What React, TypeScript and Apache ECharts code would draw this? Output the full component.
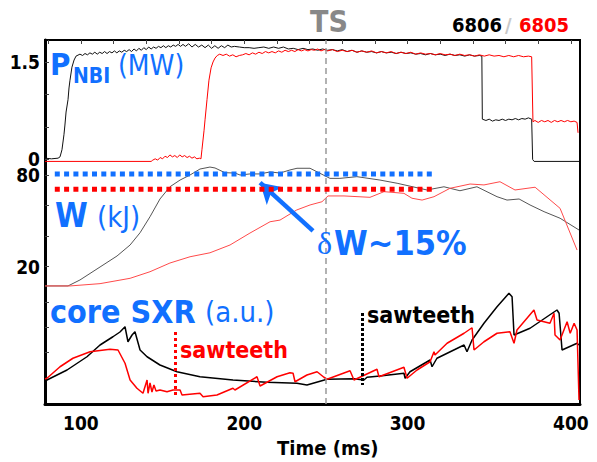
import React, { useEffect, useRef } from "react";
import * as echarts from "echarts";

// ---------- data ----------
const xTickLabels = [100, 200, 300, 400];
const xMinorTicks = [80, 100, 120, 140, 160, 180, 200, 220, 240, 260, 280, 300, 320, 340, 360, 380, 400];
const pTicks = [0, 0.5, 1, 1.5];
const pLabels = [0, 1.5];
const wTicks = [20, 40, 60, 80];
const wLabels = [20, 80];
const sTicks = [2, 3, 4];
const tsTime = 250;

// P_NBI (MW), shot 6806 (black)
const pBlack: [number, number][] = [
  [78, 0.02], [82, 0.01], [86, 0.02], [87.2, 0.04], [88.4, 0.15], [89.6, 0.38], [90.2, 0.53], [90.9, 0.73],
  [92.1, 0.92], [92.7, 1.1], [93.3, 1.22], [94.5, 1.42], [95.8, 1.53], [97, 1.59], [99.4, 1.62],
  [101, 1.6], [102.5, 1.63], [104, 1.61], [105.5, 1.64], [107, 1.62], [108.5, 1.65], [110, 1.62], [111.5, 1.65],
  [113, 1.63], [114.5, 1.66], [116, 1.63], [117.5, 1.66], [119, 1.64], [120.5, 1.67], [122, 1.64], [123.5, 1.67],
  [125, 1.65], [126.5, 1.68], [128, 1.66], [129.5, 1.69], [131, 1.66], [132.5, 1.7], [134, 1.67], [135.5, 1.71],
  [137, 1.68], [138.5, 1.72], [140, 1.69], [141.5, 1.73], [143, 1.7], [144.5, 1.73], [146, 1.71], [147.5, 1.74],
  [149, 1.72], [150.5, 1.75], [152, 1.72], [153.5, 1.75], [155, 1.73], [156.5, 1.76], [158, 1.74], [159.5, 1.77],
  [161, 1.74], [162.5, 1.77], [164, 1.74], [166, 1.78], [168, 1.73], [170, 1.77], [172, 1.73], [174, 1.76],
  [176, 1.72], [178, 1.76], [180, 1.71], [182, 1.75], [184, 1.71], [186, 1.75], [188, 1.72], [190, 1.76],
  [192, 1.73], [194, 1.74], [197, 1.73], [200, 1.72], [203, 1.72], [206, 1.71], [209, 1.72], [212, 1.73],
  [215, 1.71], [218, 1.73], [221, 1.71], [224, 1.73], [227, 1.7], [230, 1.71], [233, 1.69], [236, 1.71],
  [239, 1.69], [242, 1.7], [245, 1.68], [248, 1.7], [251, 1.68], [254, 1.69], [257, 1.67], [260, 1.69],
  [263, 1.66], [266, 1.68], [269, 1.65], [272, 1.67], [275, 1.65], [278, 1.66], [281, 1.64], [284, 1.66],
  [287, 1.64], [290, 1.65], [293, 1.63], [296, 1.65], [299, 1.63], [302, 1.64], [305, 1.62], [308, 1.63],
  [311, 1.61], [314, 1.63], [317, 1.61], [320, 1.62], [323, 1.6], [326, 1.62], [329, 1.6], [332, 1.61],
  [335, 1.59], [338, 1.61], [341, 1.59], [344, 1.6], [345.5, 1.59], [345.8, 0.62], [348, 0.6], [350, 0.62],
  [352, 0.59], [354, 0.61], [356, 0.6], [358, 0.62], [360, 0.6], [362, 0.62], [364, 0.61], [366, 0.63],
  [368, 0.61], [370, 0.63], [372, 0.62], [374, 0.64], [376, 0.62], [376.6, 0.0], [377.5, -0.03], [405, -0.03],
];

// P_NBI (MW), shot 6805 (red)
const pRed: [number, number][] = [
  [78, -0.03], [143, -0.03], [144, -0.01], [145.5, 0.01], [147, -0.01], [148.5, 0.03], [150, 0.01], [151.5, 0.05],
  [153, 0.03], [154.5, 0.07], [156, 0.04], [157.5, 0.06], [159, 0.03], [160.5, 0.07], [162, 0.04], [163.5, 0.06],
  [165, 0.03], [166.5, 0.05], [168, 0.02], [169.5, 0.04], [171, 0.01], [172.5, 0.02], [173.5, 0.01], [174.1, 0.15],
  [175.4, 0.45], [176, 0.61], [177.2, 0.92], [178.4, 1.22], [179.7, 1.41], [180.9, 1.5], [182.1, 1.56], [183.5, 1.6],
  [185, 1.62], [187, 1.6], [189, 1.62], [191, 1.59], [193, 1.61], [195, 1.58], [197, 1.6], [199, 1.61],
  [201, 1.63], [203, 1.61], [205, 1.64], [207, 1.62], [209, 1.65], [211, 1.63], [213, 1.66], [215, 1.64],
  [217, 1.66], [219, 1.64], [221, 1.67], [223, 1.65], [225, 1.68], [227, 1.66], [229, 1.68], [231, 1.66],
  [233, 1.69], [235, 1.67], [237, 1.69], [239, 1.67], [241, 1.69], [243, 1.68], [245, 1.7], [247, 1.67],
  [249, 1.69], [251, 1.67], [254, 1.69], [257, 1.66], [260, 1.68], [263, 1.66], [266, 1.68], [269, 1.65],
  [272, 1.67], [275, 1.65], [278, 1.67], [281, 1.64], [284, 1.66], [287, 1.64], [290, 1.66], [293, 1.63],
  [296, 1.65], [299, 1.63], [302, 1.65], [305, 1.62], [308, 1.64], [311, 1.62], [314, 1.63], [317, 1.61],
  [320, 1.63], [323, 1.61], [326, 1.62], [329, 1.6], [332, 1.62], [335, 1.6], [338, 1.61], [341, 1.59],
  [344, 1.61], [347, 1.59], [350, 1.61], [353, 1.59], [356, 1.6], [359, 1.58], [362, 1.6], [365, 1.58],
  [368, 1.6], [371, 1.58], [374, 1.59], [376, 1.58], [376.8, 0.58], [378, 0.6], [380, 0.57], [382, 0.6],
  [384, 0.58], [386, 0.6], [388, 0.57], [390, 0.6], [392, 0.58], [394, 0.6], [396, 0.58], [398, 0.6],
  [400, 0.58], [402, 0.59], [403.8, 0.57], [404.4, 0.41],
];

// W (kJ)
const wBlack: [number, number][] = [
  [78, 7.4], [92.1, 7.4], [99.4, 11.3], [111.7, 19.8], [122.1, 27.0], [130.1, 34.2], [136.2, 42.2], [142.3, 52.7],
  [148.4, 64.3], [154.5, 72.3], [160.7, 76.7], [166.8, 80.0], [172.9, 83.9], [179, 85.2], [182.1, 84.6], [188.2, 81.5],
  [194.3, 81.3], [197.4, 80], [203.5, 80.7], [209.7, 80.7], [215.8, 82.0], [221.9, 81.3], [228, 83.3], [232.3, 84.4],
  [240.3, 84.4], [252.5, 77.8], [258.6, 77.8], [269, 78.9], [283.1, 76.7], [293.6, 74.6], [311.9, 70.2], [322.3, 72.3],
  [332.1, 69.7], [342.5, 72.3], [354.8, 65.8], [360.9, 63.6], [368.3, 64.3], [375, 60.4], [383.6, 56.0], [393.4, 51.7],
  [405, 44.0],
];
const wRed: [number, number][] = [
  [78, 7.4], [93.3, 7.4], [111.7, 8.9], [130.1, 12.4], [142.3, 16.7], [154.5, 22.4], [166.8, 26.5], [179, 29.1],
  [191.3, 34.2], [203.5, 42.0], [215.8, 49.4], [221.9, 50.5], [232.1, 57.1], [240.3, 60.4], [247.6, 62.5], [251.3, 66.3],
  [261.1, 66.3], [277, 65.4], [285.6, 69.1], [297.8, 68.0], [302.7, 64.8], [308.9, 63.6], [316.2, 65.8], [326, 71.3],
  [338.3, 74.1], [346.8, 73.5], [356.6, 75.6], [365.8, 70.2], [378.1, 72.0], [393.4, 58.2], [403.8, 30.9],
];
const wLevelBlack = 80.65;
const wLevelRed = 70.6;
const wLevelSpan = [84, 317];

// core SXR (a.u.)
const sBlack: [number, number][] = [
  [78, 0.84], [79.2, 0.88], [91.5, 1.28], [103.7, 1.81], [111.7, 2.28], [119.6, 2.61], [123.9, 2.8], [127, 3.01],
  [128.8, 2.41], [131.3, 2.68], [133.1, 2.81], [136.2, 2.08], [140.5, 1.81], [148.4, 1.48], [158.8, 1.21], [172.9, 1.01],
  [193.1, 0.88], [213.9, 0.79], [232.3, 0.75], [238.4, 0.68], [250.7, 0.91], [267.2, 0.93], [273.3, 0.88], [275.2, 0.99],
  [283.1, 1.04], [297.8, 1.15], [298.5, 0.95], [301.5, 1.21], [313.8, 1.68], [315, 1.41], [318, 1.75], [334.6, 2.28],
  [336.4, 2.01], [339.5, 2.48], [346.8, 3.15], [354.8, 3.81], [362.1, 4.35], [364, 4.21], [365.2, 2.68], [375, 2.95],
  [385.4, 3.41], [391.5, 3.68], [392.8, 3.55], [394.6, 2.08], [403.8, 2.35], [405, 2.28],
];
const sRed: [number, number][] = [
  [78, 0.92], [79.2, 0.95], [87.2, 1.41], [95.1, 1.75], [105.6, 2.01], [117.8, 2.11], [122.7, 2.08], [127, 1.55],
  [130.1, 0.88], [134.3, 0.55], [138, 0.35], [140.5, 0.88], [141.1, 0.35], [142.3, 0.76], [143.5, 0.4], [144.7, 0.68],
  [146, 0.44], [148.4, 0.48], [152.7, 0.41], [156.4, 0.48], [160.7, 0.48], [161.9, 0.28], [172.9, 0.35], [174.8, 0.21],
  [183.3, 0.28], [193.1, 0.55], [194.3, 0.48], [207.8, 1.01], [209.7, 0.64], [220.1, 1.01], [228, 1.17], [229.9, 1.15],
  [231.1, 0.81], [238.4, 1.08], [244.6, 1.21], [248.8, 0.99], [250.7, 0.91], [264.8, 1.25], [267.2, 0.88], [281.3, 1.31],
  [282.5, 1.01], [297.8, 1.39], [299.7, 0.95], [305.8, 1.28], [313.8, 1.61], [316.2, 2.01], [316.8, 1.88], [324.2, 2.35],
  [334.6, 2.75], [339.5, 2.97], [340.7, 2.08], [346.8, 2.41], [354.8, 2.75], [362.7, 2.81], [365.2, 2.35], [367, 2.88],
  [377.4, 3.68], [379.3, 3.28], [387.2, 3.15], [389.7, 3.55], [390.3, 2.68], [393.4, 2.48], [397.7, 3.21], [399.6, 2.75],
  [402, 3.15], [403.8, 2.88], [405, 0.08],
];
const sawRed = { t: 157.6, from: 2.8, to: 0.2 };
const sawBlack = { t: 272.5, from: 3.56, to: 0.68 };
const arrowTail: [number, number] = [242.1, 43.4];
const arrowTip: [number, number] = [209.7, 75.0];

// ---------- styling ----------
const BLUE = "#1170ff";
const FONT = '"DejaVu Sans Condensed", "DejaVu Sans", sans-serif';

function txt(text: string, x: number, y: number, fill: string, font: string) {
  return {
    type: "text",
    x,
    y,
    z: 100,
    style: { text, fill, font, verticalAlign: "middle", textVerticalAlign: "middle", align: "left" },
  };
}

export default function App() {
  const ref = useRef<HTMLDivElement>(null);
  useEffect(() => {
    if (!ref.current) return;
    const chart = echarts.init(ref.current, null, { renderer: "svg" });
    const tickStyle = { inside: true, length: 4, lineStyle: { color: "#444", width: 1 } };
    const labelStyle = { color: "#000", fontSize: 19, fontWeight: "bold", fontFamily: FONT };
    const option: any = {
      animation: false,
      backgroundColor: "#fff",
      grid: { left: 45, right: 17, top: 40, bottom: 58, show: true, borderColor: "#000", borderWidth: 2, backgroundColor: "transparent" },
      xAxis: [
        {
          type: "value", min: 78, max: 405.6, position: "bottom",
          axisLine: { show: true, onZero: false, lineStyle: { color: "#000", width: 3 } },
          axisTick: { show: false },
          splitLine: { show: false },
          axisLabel: { ...labelStyle, customValues: xTickLabels, margin: 9 },
        },
        {
          type: "value", min: 78, max: 405.6, position: "top",
          axisLine: { show: false, onZero: false },
          axisTick: { ...tickStyle, customValues: xMinorTicks },
          splitLine: { show: false },
          axisLabel: { show: false },
        },
      ],
      yAxis: [
        {
          type: "value", min: -3.762, max: 1.838, position: "left",
          axisLine: { show: true, onZero: false, lineStyle: { color: "#000", width: 3 } },
          axisTick: { ...tickStyle, customValues: pTicks },
          axisLabel: { ...labelStyle, lineHeight: 14, customValues: pLabels, margin: 5, formatter: (v: number) => String(v) },
          splitLine: { show: false },
        },
        {
          type: "value", min: -69.86, max: 168.35, position: "left",
          axisLine: { show: false, onZero: false },
          axisTick: { ...tickStyle, customValues: wTicks },
          axisLabel: { ...labelStyle, lineHeight: 14, customValues: wLabels, margin: 5, formatter: (v: number) => String(v) },
          splitLine: { show: false },
        },
        {
          type: "value", min: -0.08, max: 14.48, position: "left",
          axisLine: { show: false, onZero: false },
          axisTick: { ...tickStyle, customValues: sTicks },
          axisLabel: { show: false },
          splitLine: { show: false },
        },
      ],
      series: [
        {
          type: "line", xAxisIndex: 0, yAxisIndex: 0, data: pBlack, showSymbol: false, clip: false,
          lineStyle: { color: "#111", width: 1 },
          markLine: {
            silent: true, symbol: ["none", "none"], label: { show: false },
            lineStyle: { color: "#999", width: 1.5, type: [6, 4] },
            data: [{ xAxis: tsTime }],
          },
        },
        { type: "line", xAxisIndex: 0, yAxisIndex: 0, data: pRed, showSymbol: false, clip: false, lineStyle: { color: "#ff0000", width: 1 } },
        {
          type: "line", xAxisIndex: 0, yAxisIndex: 1, data: wBlack, showSymbol: false, lineStyle: { color: "#555", width: 1 },
          markLine: {
            silent: true, symbol: ["none", "arrow"], symbolSize: [18, 20], label: { show: false },
            lineStyle: { color: BLUE, width: 4.5, type: "solid" },
            data: [[{ coord: arrowTail }, { coord: arrowTip }]],
          },
        },
        { type: "line", xAxisIndex: 0, yAxisIndex: 1, data: wRed, showSymbol: false, lineStyle: { color: "#ff4a4a", width: 1 } },
        {
          type: "line", xAxisIndex: 0, yAxisIndex: 1, showSymbol: false, z: 5,
          data: [[wLevelSpan[0], wLevelBlack], [wLevelSpan[1], wLevelBlack]],
          lineStyle: { color: BLUE, width: 5, type: [5, 4.3], cap: "butt" },
        },
        {
          type: "line", xAxisIndex: 0, yAxisIndex: 1, showSymbol: false, z: 5,
          data: [[wLevelSpan[0], wLevelRed], [wLevelSpan[1], wLevelRed]],
          lineStyle: { color: "#ff0000", width: 5, type: [5, 4.3], cap: "butt" },
        },
        {
          type: "line", xAxisIndex: 0, yAxisIndex: 2, data: sBlack, showSymbol: false, lineStyle: { color: "#000", width: 1.5 },
          markLine: {
            silent: true, symbol: ["none", "none"], label: { show: false },
            lineStyle: { color: "#000", width: 3, type: [3, 2] },
            data: [[{ coord: [sawBlack.t, sawBlack.from] }, { coord: [sawBlack.t, sawBlack.to] }]],
          },
        },
        {
          type: "line", xAxisIndex: 0, yAxisIndex: 2, data: sRed, showSymbol: false, lineStyle: { color: "#ff0000", width: 1.5 },
          markLine: {
            silent: true, symbol: ["none", "none"], label: { show: false },
            lineStyle: { color: "#ff0000", width: 3, type: [3, 3] },
            data: [[{ coord: [sawRed.t, sawRed.from] }, { coord: [sawRed.t, sawRed.to] }]],
          },
        },
      ],
      graphic: [
        txt("P", 50, 64, BLUE, `bold 31px ${FONT}`),
        txt("NBI", 73, 76, BLUE, `bold 21px ${FONT}`),
        txt("(MW)", 118, 65, BLUE, `normal 28px ${FONT}`),
        txt("W", 55, 215, BLUE, `bold 33px ${FONT}`),
        txt("(kJ)", 97, 217, BLUE, `normal 29px ${FONT}`),
        txt("core SXR", 50, 311.5, BLUE, `bold 32px ${FONT}`),
        txt("(a.u.)", 205, 312, BLUE, `normal 29px ${FONT}`),
        txt("sawteeth", 180, 350, "#ff0000", `bold 23px ${FONT}`),
        txt("sawteeth", 367, 315, "#000", `bold 23px ${FONT}`),
        txt("δ", 317, 243, BLUE, `normal 32px "Liberation Serif", "DejaVu Serif", serif`),
        txt("W~15%", 334, 243, BLUE, `bold 34px ${FONT}`),
        txt("TS", 310, 21.5, "#888", `bold 30px ${FONT}`),
        txt("6806", 452, 24.5, "#000", `bold 20px ${FONT}`),
        txt("/", 505, 24.5, "#c8c8c8", `bold 20px ${FONT}`),
        txt("6805", 519, 24.5, "#ff0000", `bold 20px ${FONT}`),
        txt("Time (ms)", 277, 448, "#000", `bold 20px ${FONT}`),
      ],
    };
    chart.setOption(option);
    return () => chart.dispose();
  }, []);
  return <div ref={ref} style={{ position: "absolute", left: 0, top: 0, width: 597, height: 462 }} />;
}
